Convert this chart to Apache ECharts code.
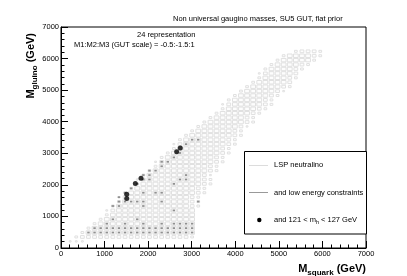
<!DOCTYPE html>
<html><head><meta charset="utf-8">
<script src="https://cdn.jsdelivr.net/npm/echarts@6/dist/echarts.min.js"></script>
<style>html,body{margin:0;padding:0;background:#fff}#c{width:407px;height:276px}</style>
</head><body><div id="c"></div>
<script>
// ---- data (2D histogram, 50x50 bins over 0-7000 GeV) ----
const binWidth = 140;
const xTickValues = [0, 1000, 2000, 3000, 4000, 5000, 6000, 7000];
// light histogram ("LSP neutralino"): first filled bin of each gluino row and box-size codes
const lightStart = [null,1,2,3,4,5,6,7,7,8,9,9,10,11,12,12,13,14,15,15,16,17,18,18,19,20,21,22,23,24,25,26,26,27,28,29,30,31,32,32,33,34,35,36,38];
const lightCodes = [
  "",
  "111",
  "23333333333333333332",
  "2444444444444444444",
  "244444444444444444",
  "24444444444444444",
  "2444444444444444",
  "244444444444444",
  "134444444444444",
  "244444444444432",
  "24444444444432",
  "13444444444432",
  "24444444444432",
  "2444444444432",
  "2444444444432",
  "1344444444432",
  "244444444431",
  "244444444432",
  "24444444432",
  "134444444432",
  "24444444432",
  "24444444432",
  "2444444432",
  "13444444432",
  "2444444432",
  "2444444432",
  "244444432",
  "244444431",
  "244444432",
  "24444432",
  "24444432",
  "24444432",
  "134444432",
  "24444432",
  "24444432",
  "24444431",
  "24444432",
  "2444443",
  "2444432",
  "1344443",
  "2444432",
  "2444432",
  "2444442",
  "2444432",
  "23332"
];
// dark histogram ("and low energy constraints"): 'x' marks a filled bin, row = gluino bin
const darkRows = [
  "",
  "",
  "",
  "....xxxxxxxxxxxxxxxxxx",
  ".....xxxxxxxxxxxxxxxxx",
  ".......x..x..x..x.xxxx",
  "........x...x",
  "",
  "..................x",
  "........xx...x",
  ".........xxxxx..x.....x",
  ".........x",
  "..........x..x.xx",
  "...........x",
  "............x.....x",
  ".............xx....xx",
  ".............xx.....x",
  "..............xx",
  "................x",
  "................xx",
  "..................x",
  "...................x",
  "",
  "....................x",
  ".....................xx"
];
// points with 121 < m_h < 127 GeV
const higgsSquark = [1508, 1508, 1706, 1836, 2654, 2737];
const higgsGluino = [1568, 1705, 2044, 2213, 3048, 3165];

const FONT = '"Liberation Sans", Arial, Helvetica, sans-serif';
const ctx = document.createElement('canvas').getContext('2d');
function tw(t, s, b) { ctx.font = (b ? 'bold ' : '') + s + 'px ' + FONT; return ctx.measureText(t).width; }

const sizeOf = {'1': 0.3, '2': 0.45, '3': 0.62, '4': 0.78};
const lightData = [];
lightCodes.forEach((codes, j) => {
  const s = lightStart[j];
  for (let k = 0; k < codes.length; k++) {
    const c = codes[k];
    if (c === '.') continue;
    lightData.push([(s + k) * binWidth + binWidth / 2, j * binWidth + binWidth / 2, sizeOf[c]]);
  }
});
const darkData = [];
darkRows.forEach((row, j) => {
  for (let i = 0; i < row.length; i++) {
    if (row[i] === 'x') darkData.push([i * binWidth + binWidth / 2, j * binWidth + binWidth / 2, 0.4]);
  }
});
const higgsData = higgsSquark.map((s, k) => [s, higgsGluino[k]]);

function boxRenderer(stroke, fill) {
  return function (params, api) {
    const c = api.coord([api.value(0), api.value(1)]);
    const sz = api.size([binWidth, binWidth]);
    const f = api.value(2);
    const w = sz[0] * f, h = sz[1] * f;
    return {type: 'rect', shape: {x: c[0] - w / 2, y: c[1] - h / 2, width: w, height: h},
      style: {fill: fill, stroke: stroke, lineWidth: 1}};
  };
}

function axisCommon() {
  return {
    type: 'value', min: 0, max: 7000, interval: 1000,
    splitLine: {show: false}, minorSplitLine: {show: false},
    axisLine: {show: true, onZero: false, lineStyle: {color: '#000', width: 1}},
    axisTick: {show: true, inside: true, length: 7, lineStyle: {color: '#000', width: 1}},
    minorTick: {show: true, splitNumber: 5, length: 3.5, lineStyle: {color: '#000', width: 1}},
    axisLabel: {show: true, fontSize: 7.5, color: '#000', fontFamily: FONT, margin: 2,
      formatter: v => String(v)}
  };
}

// axis titles (measured)
const xM = tw('M', 11, true), xS = tw('squark', 8, true), xG = tw(' (GeV)', 11, true);
const xStart = 366 - (xM + xS + xG);
const yM = tw('M', 11, true), yS = tw('gluino', 8, true), yG = tw(' (GeV)', 11, true);
const yStart = 33 + (yM + yS + yG);
const lA = tw('and 121 < m', 7.5, false), lH = tw('h', 5.5, false);

function txt(x, y, text, size, bold, extra) {
  return Object.assign({type: 'text', x: x, y: y, silent: true,
    style: {text: text, fill: '#000', font: (bold ? 'bold ' : '') + size + 'px ' + FONT,
      align: 'left', textAlign: 'left', verticalAlign: 'middle', textVerticalAlign: 'middle'}}, extra || {});
}

const chart = echarts.init(document.getElementById('c'), null, {renderer: 'canvas', width: 407, height: 276});
chart.setOption({
  animation: false,
  backgroundColor: '#fff',
  grid: {left: 61, top: 27, right: 41, bottom: 28, show: true, borderColor: '#000', borderWidth: 1, backgroundColor: 'transparent'},
  xAxis: Object.assign(axisCommon(), {}),
  yAxis: Object.assign(axisCommon(), {}),
  series: [
    {type: 'custom', renderItem: boxRenderer('#e0e0e0', '#fdfdfd'), data: lightData, z: 2},
    {type: 'custom', renderItem: boxRenderer(null, '#909090'), data: darkData, z: 3},
    {type: 'scatter', data: higgsData, symbol: 'circle', symbolSize: 5, itemStyle: {color: '#000'}, z: 4}
  ],
  graphic: {elements: [
    txt(173, 19, 'Non universal gaugino masses, SU5 GUT, flat prior', 7.5, false),
    txt(137, 35, '24 representation', 7.5, false),
    txt(74, 44.5, 'M1:M2:M3 (GUT scale) = -0.5:-1.5:1', 7.5, false),
    // x-axis title
    txt(xStart, 268.7, 'M', 11, true),
    txt(xStart + xM, 272.4, 'squark', 8, true),
    txt(xStart + xM + xS, 268.7, ' (GeV)', 11, true),
    // y-axis title (rotated)
    {type: 'group', x: 31, y: yStart, rotation: Math.PI / 2, children: [
      txt(0, 0, 'M', 11, true),
      txt(yM, 3.6, 'gluino', 8, true),
      txt(yM + yS, 0, ' (GeV)', 11, true)
    ]},
    // legend
    {type: 'rect', shape: {x: 244.5, y: 151.5, width: 122, height: 82.5}, style: {fill: '#fff', stroke: '#000', lineWidth: 1}, z: 10},
    {type: 'line', shape: {x1: 249, y1: 165.5, x2: 268, y2: 165.5}, style: {stroke: '#dcdcdc', lineWidth: 1}, z: 11},
    {type: 'line', shape: {x1: 249, y1: 192.5, x2: 268, y2: 192.5}, style: {stroke: '#999', lineWidth: 1}, z: 11},
    {type: 'circle', shape: {cx: 259.3, cy: 220, r: 2.2}, style: {fill: '#000'}, z: 11},
    txt(274, 165, 'LSP neutralino', 7.5, false, {z: 11}),
    txt(274, 192.5, 'and low energy constraints', 7.5, false, {z: 11}),
    txt(274, 220, 'and 121 < m', 7.5, false, {z: 11}),
    txt(274 + lA, 222, 'h', 5.5, false, {z: 11}),
    txt(274 + lA + lH, 220, ' < 127 GeV', 7.5, false, {z: 11})
  ]}
});
</script></body></html>
